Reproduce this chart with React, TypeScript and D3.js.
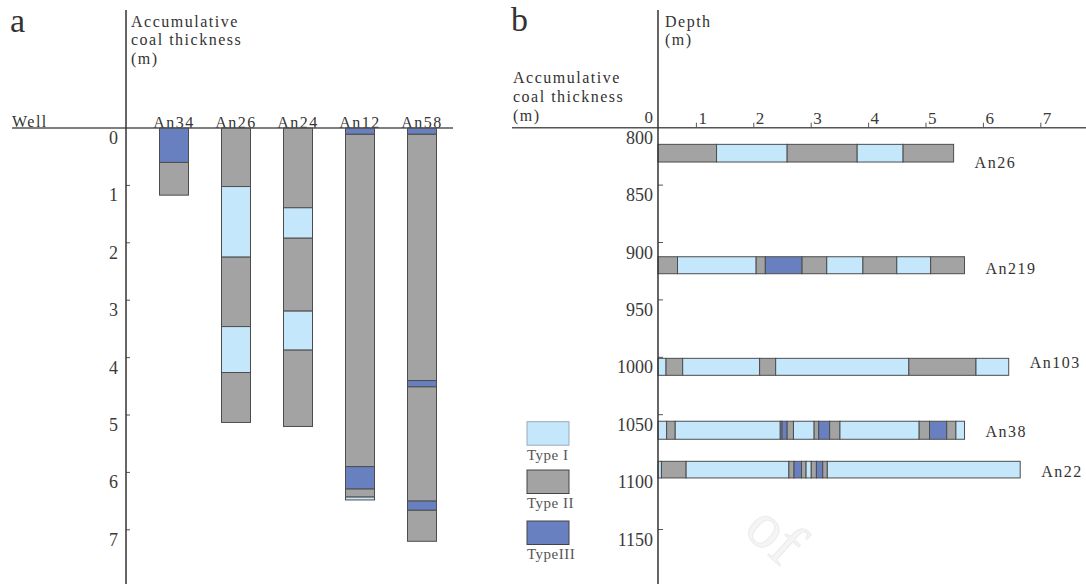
import React from "react";
import * as d3 from "d3";

// ---------- DATA ----------
// Coal types: 1 = Type I, 2 = Type II, 3 = Type III
// Each segment: [type, cumulative thickness at bottom/end of segment (m)]
const wellsA = ["An34", "An26", "An24", "An12", "An58"];
const a_An34: [number, number][] = [[3, 0.6], [2, 1.17]];
const a_An26: [number, number][] = [[2, 1.02], [1, 2.25], [2, 3.46], [1, 4.26], [2, 5.13]];
const a_An24: [number, number][] = [[2, 1.39], [1, 1.92], [2, 3.19], [1, 3.87], [2, 5.2]];
const a_An12: [number, number][] = [[3, 0.11], [2, 5.9], [3, 6.29], [2, 6.43], [1, 6.48]];
const a_An58: [number, number][] = [[3, 0.11], [2, 4.4], [3, 4.51], [2, 6.5], [3, 6.66], [2, 7.2]];
const segsA = [a_An34, a_An26, a_An24, a_An12, a_An58];
const ticksA = [0, 1, 2, 3, 4, 5, 6, 7];

const wellsB = ["An26", "An219", "An103", "An38", "An22"];
const depthTopB = [814.5, 912.4, 1000.9, 1055.7, 1090.6];
const depthBotB = [829.9, 927.2, 1015.7, 1071.4, 1105.1];
const b_An26: [number, number][] = [[2, 1.02], [1, 2.25], [2, 3.47], [1, 4.27], [2, 5.15]];
const b_An219: [number, number][] = [[2, 0.34], [1, 1.71], [2, 1.87], [3, 2.51], [2, 2.94], [1, 3.57], [2, 4.16], [1, 4.75], [2, 5.34]];
const b_An103: [number, number][] = [[1, 0.14], [2, 0.43], [1, 1.77], [2, 2.05], [1, 4.37], [2, 5.54], [1, 6.11]];
const b_An38: [number, number][] = [[1, 0.15], [2, 0.3], [1, 2.13], [2, 2.16], [3, 2.25], [2, 2.36], [1, 2.72], [2, 2.8], [3, 2.99], [2, 3.17], [1, 4.55], [2, 4.73], [3, 5.03], [2, 5.19], [1, 5.34]];
const b_An22: [number, number][] = [[1, 0.06], [2, 0.49], [1, 2.28], [2, 2.37], [3, 2.5], [2, 2.58], [1, 2.67], [2, 2.76], [3, 2.87], [2, 2.95], [1, 6.31]];
const segsB = [b_An26, b_An219, b_An103, b_An38, b_An22];
const depthTicksB = [800, 850, 900, 950, 1000, 1050, 1100, 1150];
const thickTicksB = [1, 2, 3, 4, 5, 6, 7];

const legendLabels = ["Type I", "Type II", "TypeIII"];

// ---------- STYLE ----------
const COLORS: Record<number, string> = { 1: "#c4e7fb", 2: "#a3a3a3", 3: "#6880c0" };
const FONT = "'Liberation Serif', 'Times New Roman', serif";
const TXT = "#333";
const labelDyB = [15, 9, 1, 7, 7];

function segments(list: [number, number][]) {
  let prev = 0;
  return list.map(([type, end]) => {
    const s = { type, start: prev, end };
    prev = end;
    return s;
  });
}

export default function App() {
  const W = 1086, H = 584;
  // panel a scales
  const axisAx = 126;
  const baseY = 128;
  const yA = d3.scaleLinear().domain([0, 8]).range([baseY, baseY + 8 * 57.4]);
  const xA = d3.scalePoint<string>().domain(wellsA).range([174, 422]);
  const barW = 29;

  // panel b scales
  const axisBx = 658;
  const baseYB = 127.7;
  const yB = d3.scaleLinear().domain([800, 1200]).range([baseYB, baseYB + 400 * 1.148]);
  const xB = d3.scaleLinear().domain([0, 8]).range([axisBx, axisBx + 8 * 57.4]);
  const tickShiftB = -19;

  const textStyle = { fontFamily: FONT, fill: TXT, letterSpacing: "1.5px" } as React.CSSProperties;

  return (
    <svg width={W} height={H} style={{ position: "absolute", left: 0, top: 0, background: "#fff" }}>
      {/* watermark fragment */}
      <text x={0} y={0} transform="translate(742,532) rotate(42)" fontFamily={FONT} fontSize={64}
        fill="#f5f5f5" stroke="#ebebeb" strokeWidth={1}>of</text>

      {/* ===== Panel a ===== */}
      <text x={10} y={32} fontFamily={FONT} fontSize={34} fill={TXT}>a</text>
      <text x={131} y={26.5} style={textStyle} fontSize={16}>Accumulative</text>
      <text x={131} y={45} style={textStyle} fontSize={16}>coal thickness</text>
      <text x={131} y={64} style={textStyle} fontSize={16}>(m)</text>
      <text x={12} y={127} style={textStyle} fontSize={16}>Well</text>

      {/* ticks */}
      {ticksA.filter((t) => t > 0).map((t) => (
        <line key={"ta" + t} x1={axisAx} x2={axisAx + 4} y1={yA(t)} y2={yA(t)} stroke="#555" strokeWidth={1} />
      ))}
      {ticksA.map((t) => (
        <text key={"tla" + t} x={118} y={yA(t) + 16} textAnchor="end" fontFamily={FONT} fontSize={18} fill="#3a3a3a">{t}</text>
      ))}

      {/* bars */}
      {wellsA.map((w, i) => (
        <g key={w}>
          {segments(segsA[i]).map((s, j) => (
            <rect key={j} x={(xA(w) as number) - barW / 2} width={barW}
              y={yA(s.start)} height={yA(s.end) - yA(s.start)}
              fill={COLORS[s.type]} stroke="#4d4d4d" strokeWidth={1} />
          ))}
          <text x={xA(w) as number} y={127.5} textAnchor="middle" style={textStyle} fontSize={16}>{w}</text>
        </g>
      ))}

      <line x1={12} x2={453} y1={baseY} y2={baseY} stroke="#555" strokeWidth={1.5} />
      <line x1={axisAx} x2={axisAx} y1={10} y2={H} stroke="#333" strokeWidth={1.5} />

      {/* ===== Panel b ===== */}
      <text x={511} y={31} fontFamily={FONT} fontSize={34} fill={TXT}>b</text>
      <text x={665} y={27} style={textStyle} fontSize={16}>Depth</text>
      <text x={665} y={45} style={textStyle} fontSize={16}>(m)</text>
      <text x={513} y={83} style={textStyle} fontSize={16}>Accumulative</text>
      <text x={513} y={102} style={textStyle} fontSize={16}>coal thickness</text>
      <text x={513} y={121} style={textStyle} fontSize={16}>(m)</text>
      <text x={653} y={123} textAnchor="end" fontFamily={FONT} fontSize={17} fill="#3a3a3a">0</text>

      {thickTicksB.map((t) => (
        <g key={"tb" + t}>
          <line x1={xB(t) + tickShiftB} x2={xB(t) + tickShiftB} y1={baseYB} y2={baseYB - 5} stroke="#555" strokeWidth={1} />
          <text x={xB(t) + tickShiftB + 2} y={123.5} fontFamily={FONT} fontSize={17} fill="#3a3a3a">{t}</text>
        </g>
      ))}

      {depthTicksB.filter((d) => d > 800).map((d) => (
        <line key={"dt" + d} x1={axisBx} x2={axisBx + 5} y1={yB(d)} y2={yB(d)} stroke="#555" strokeWidth={1} />
      ))}
      {depthTicksB.map((d) => (
        <text key={"dl" + d} x={653} y={yB(d) + 16} textAnchor="end" fontFamily={FONT} fontSize={18} fill="#3a3a3a">{d}</text>
      ))}

      {wellsB.map((w, i) => {
        const segs = segments(segsB[i]);
        const y0 = yB(depthTopB[i]);
        const y1 = yB(depthBotB[i]);
        const total = segs[segs.length - 1].end;
        return (
          <g key={w}>
            {segs.map((s, j) => (
              <rect key={j} x={xB(s.start)} width={xB(s.end) - xB(s.start)} y={y0} height={y1 - y0}
                fill={COLORS[s.type]} stroke="#4d4d4d" strokeWidth={1} />
            ))}
            <text x={xB(total) + 21} y={(y0 + y1) / 2 + labelDyB[i]} style={textStyle} fontSize={16}>{w}</text>
          </g>
        );
      })}

      <line x1={512} x2={W} y1={baseYB} y2={baseYB} stroke="#555" strokeWidth={1.5} />
      <line x1={axisBx} x2={axisBx} y1={10} y2={H} stroke="#333" strokeWidth={1.5} />

      {/* legend */}
      {legendLabels.map((l, i) => {
        const ly = [421.7, 470, 521][i];
        return (
          <g key={l}>
            <rect x={527} y={ly} width={42} height={23.5} fill={COLORS[i + 1]}
              stroke={i === 0 ? "#9ab" : "#444"} strokeWidth={1} />
            <text x={527} y={ly + 38} fontFamily={FONT} fontSize={15} fill="#555" letterSpacing="0.5px">{l}</text>
          </g>
        );
      })}
    </svg>
  );
}
